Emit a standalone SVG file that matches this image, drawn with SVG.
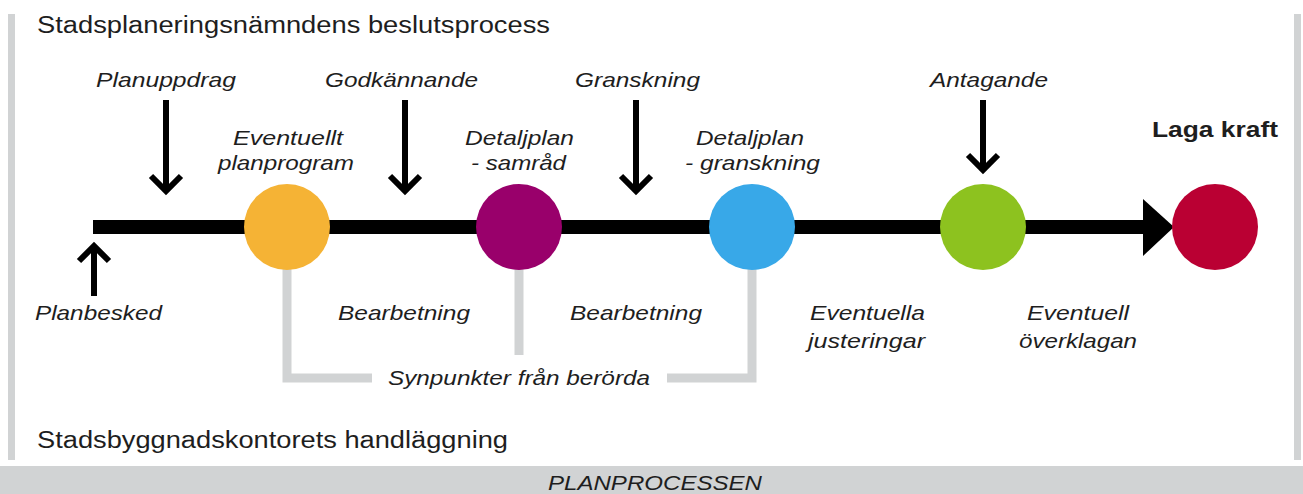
<svg xmlns="http://www.w3.org/2000/svg" width="1303" height="494" viewBox="0 0 1303 494">
<style>
text{font-family:"Liberation Sans",Arial,sans-serif;fill:#1e1e1e}
.it{font-style:italic;font-size:21px}
.hd{font-size:23.5px}
.bd{font-weight:bold;font-size:22px}
.ar{fill:none;stroke:#000;stroke-width:6;stroke-linejoin:miter;stroke-miterlimit:10}
.gr{fill:none;stroke:#D1D3D4;stroke-width:9}
.band{fill:#D1D3D4}
</style>
<rect class="band" x="8" y="14" width="7" height="446"/>
<rect class="band" x="1294" y="14" width="7" height="446"/>
<rect class="band" x="0" y="466" width="1303" height="28"/>
<text class="hd" x="37" y="33" textLength="513" lengthAdjust="spacingAndGlyphs">Stadsplaneringsnämndens beslutsprocess</text>
<text class="hd" x="37" y="448" textLength="471" lengthAdjust="spacingAndGlyphs">Stadsbyggnadskontorets handläggning</text>
<text class="it" x="548" y="490" style="font-size:19.5px" textLength="214" lengthAdjust="spacingAndGlyphs">PLANPROCESSEN</text>
<g id="connectors">
<rect x="93" y="220" width="1052" height="14" fill="#000"/>
<polygon points="1143,199 1174,227 1143,256" fill="#000"/>
<path class="gr" d="M287 266 V378 H372"/>
<path class="gr" d="M519 266 V355"/>
<path class="gr" d="M752 266 V378 H667"/>
<path class="ar" d="M166 100 V190 M151 176 L166 191 L181 176"/>
<path class="ar" d="M405 100 V190 M390 176 L405 191 L420 176"/>
<path class="ar" d="M636 100 V190 M621 176 L636 191 L651 176"/>
<path class="ar" d="M983 100 V169 M968 155 L983 170 L998 155"/>
<path class="ar" d="M94 296 V247 M79 261 L94 246 L109 261"/>
</g>
<g id="planbesked"><text class="it" x="35" y="320" textLength="127" lengthAdjust="spacingAndGlyphs">Planbesked</text></g>
<g id="planuppdrag"><text class="it" x="96" y="87" textLength="140" lengthAdjust="spacingAndGlyphs">Planuppdrag</text></g>
<g id="planprogram">
<circle cx="287" cy="227" r="43" fill="#F5B335"/>
<text class="it" x="233" y="145" textLength="110" lengthAdjust="spacingAndGlyphs">Eventuellt</text>
<text class="it" x="218" y="170" textLength="136" lengthAdjust="spacingAndGlyphs">planprogram</text>
</g>
<g id="godkannande"><text class="it" x="325" y="87" textLength="153" lengthAdjust="spacingAndGlyphs">Godkännande</text></g>
<g id="bearbetning1"><text class="it" x="338" y="320" textLength="132" lengthAdjust="spacingAndGlyphs">Bearbetning</text></g>
<g id="samrad">
<circle cx="519" cy="227" r="43" fill="#99006B"/>
<text class="it" x="465" y="145" textLength="109" lengthAdjust="spacingAndGlyphs">Detaljplan</text>
<text class="it" x="471" y="170" textLength="95" lengthAdjust="spacingAndGlyphs">- samråd</text>
</g>
<g id="granskning"><text class="it" x="575" y="87" textLength="125" lengthAdjust="spacingAndGlyphs">Granskning</text></g>
<g id="bearbetning2"><text class="it" x="570" y="320" textLength="132" lengthAdjust="spacingAndGlyphs">Bearbetning</text></g>
<g id="dp-granskning">
<circle cx="752" cy="227" r="43" fill="#38A8E8"/>
<text class="it" x="696" y="145" textLength="108" lengthAdjust="spacingAndGlyphs">Detaljplan</text>
<text class="it" x="685" y="170" textLength="135" lengthAdjust="spacingAndGlyphs">- granskning</text>
</g>
<g id="synpunkter"><text class="it" x="388" y="385" textLength="262" lengthAdjust="spacingAndGlyphs">Synpunkter från berörda</text></g>
<g id="justeringar">
<text class="it" x="810" y="320" textLength="115" lengthAdjust="spacingAndGlyphs">Eventuella</text>
<text class="it" x="808" y="348" textLength="117" lengthAdjust="spacingAndGlyphs">justeringar</text>
</g>
<g id="antagande">
<circle cx="983" cy="227" r="43" fill="#8DC21F"/>
<text class="it" x="930" y="87" textLength="118" lengthAdjust="spacingAndGlyphs">Antagande</text>
</g>
<g id="overklagan">
<text class="it" x="1027" y="320" textLength="102" lengthAdjust="spacingAndGlyphs">Eventuell</text>
<text class="it" x="1019" y="348" textLength="118" lengthAdjust="spacingAndGlyphs">överklagan</text>
</g>
<g id="laga-kraft">
<circle cx="1215" cy="227" r="43" fill="#BA0033"/>
<text class="bd" x="1152" y="137" textLength="126" lengthAdjust="spacingAndGlyphs">Laga kraft</text>
</g>
</svg>
